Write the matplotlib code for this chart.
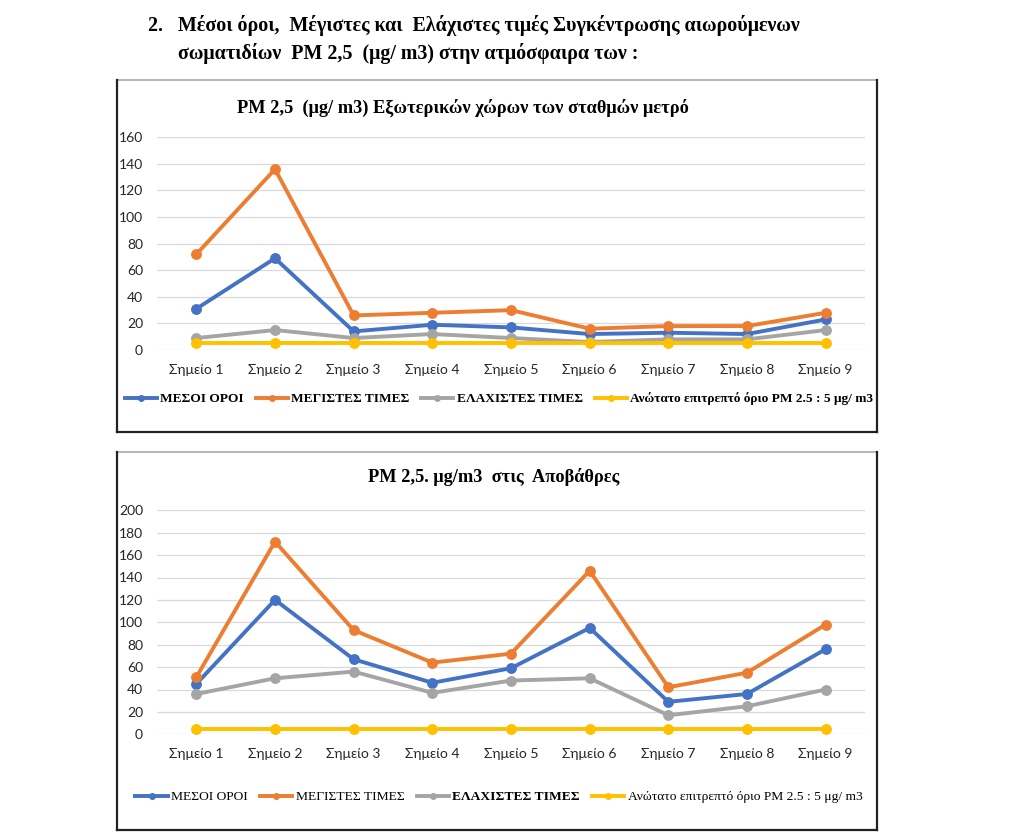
import matplotlib
matplotlib.use("Agg")
import matplotlib.pyplot as plt
from matplotlib.lines import Line2D
from matplotlib.font_manager import fontManager

categories = ["Σημείο 1", "Σημείο 2", "Σημείο 3", "Σημείο 4", "Σημείο 5",
              "Σημείο 6", "Σημείο 7", "Σημείο 8", "Σημείο 9"]

series_names = ["ΜΕΣΟΙ ΟΡΟΙ", "ΜΕΓΙΣΤΕΣ ΤΙΜΕΣ", "ΕΛΑΧΙΣΤΕΣ ΤΙΜΕΣ",
                "Ανώτατο επιτρεπτό όριο PM 2.5 : 5 μg/ m3"]

# Chart 1: outdoor areas of metro stations
top_mean = [31, 69, 14, 19, 17, 12, 13, 12, 23]
top_max = [72, 136, 26, 28, 30, 16, 18, 18, 28]
top_min = [9, 15, 9, 12, 9, 6, 8, 8, 15]
top_limit = [5, 5, 5, 5, 5, 5, 5, 5, 5]

# Chart 2: platforms
bot_mean = [45, 120, 67, 46, 59, 95, 29, 36, 76]
bot_max = [51, 172, 93, 64, 72, 146, 42, 55, 98]
bot_min = [36, 50, 56, 37, 48, 50, 17, 25, 40]
bot_limit = [5, 5, 5, 5, 5, 5, 5, 5, 5]

top_yticks = [0, 20, 40, 60, 80, 100, 120, 140, 160]
bot_yticks = [0, 20, 40, 60, 80, 100, 120, 140, 160, 180, 200]

heading1 = "2.   Μέσοι όροι,  Μέγιστες και  Ελάχιστες τιμές Συγκέντρωσης αιωρούμενων"
heading2 = "σωματιδίων  PM 2,5  (μg/ m3) στην ατμόσφαιρα των :"
title_top = "PM 2,5  (μg/ m3) Εξωτερικών χώρων των σταθμών μετρό"
title_bot = "PM 2,5. μg/m3  στις  Αποβάθρες"

colors = ["#4472C4", "#ED7D31", "#A5A5A5", "#FFC000"]

names = {f.name for f in fontManager.ttflist}
sans = "Liberation Sans Narrow" if "Liberation Sans Narrow" in names else "Lato"
serif = "Liberation Serif"

W, H = 1015, 839
fig = plt.figure(figsize=(W / 100, H / 100), dpi=100)
fig.patch.set_facecolor("white")


def fx(px):
    return px / W


def fy(py):
    return 1 - py / H


def box(left, top, right, bottom):
    fig.add_artist(Line2D([fx(left), fx(right)], [fy(top), fy(top)],
                          transform=fig.transFigure, color="#A8A8A8", lw=1.2))
    for xs, ys in [([left, left], [top, bottom]),
                   ([right, right], [top, bottom]),
                   ([left, right], [bottom, bottom])]:
        fig.add_artist(Line2D([fx(x) for x in xs], [fy(y) for y in ys],
                              transform=fig.transFigure, color="#222222", lw=1.6))


# heading
fig.text(fx(148), fy(25), heading1, family=serif, weight="bold", fontsize=14.4,
         ha="left", va="center")
fig.text(fx(178), fy(53), heading2, family=serif, weight="bold", fontsize=14.4,
         ha="left", va="center")

box(117, 80, 877, 432)
box(117, 452, 877, 830)


def make_chart(rect, data, yticks, title, title_xy, legend_y, legend_bold,
               legend_size):
    ax = fig.add_axes(rect)
    x = list(range(len(categories)))
    for vals, c in zip(data, colors):
        ax.plot(x, vals, color=c, lw=2.8, marker="o", markersize=6.8,
                solid_capstyle="round", zorder=3)
    ax.set_xlim(-0.5, len(categories) - 0.5)
    ax.set_ylim(yticks[0], yticks[-1])
    ax.set_yticks(yticks)
    ax.set_xticks(x)
    ax.set_xticklabels(categories)
    ax.grid(axis="y", color="#D9D9D9", lw=0.9)
    ax.set_axisbelow(True)
    for s in ax.spines.values():
        s.set_visible(False)
    ax.tick_params(length=0, labelsize=10, colors="#262626")
    ax.tick_params(axis="y", pad=10)
    ax.tick_params(axis="x", pad=10)
    for lab in ax.get_xticklabels() + ax.get_yticklabels():
        lab.set_family([sans, "DejaVu Sans"])
    fig.text(fx(title_xy[0]), fy(title_xy[1]), title, family=serif,
             weight="bold", fontsize=13.2, ha="center", va="center")
    handles = [Line2D([0], [0], color=c, lw=2.8, marker="o", markersize=4)
               for c in colors]
    leg = fig.legend(handles, series_names, loc="center",
                     bbox_to_anchor=(fx(499), fy(legend_y)), ncol=4,
                     frameon=False, handlelength=2.4, handletextpad=0.25,
                     columnspacing=0.9, prop={"family": serif, "size": legend_size})
    for t, b in zip(leg.get_texts(), legend_bold):
        t.set_weight("bold" if b else "normal")
    return ax


make_chart([fx(157), fy(350), fx(865) - fx(157), fy(137.3) - fy(350)],
           [top_mean, top_max, top_min, top_limit], top_yticks, title_top,
           (463, 108), 399, [True, True, True, True], 9.6)

make_chart([fx(157), fy(734.3), fx(865) - fx(157), fy(510.3) - fy(734.3)],
           [bot_mean, bot_max, bot_min, bot_limit], bot_yticks, title_bot,
           (494, 477), 797, [False, False, True, False], 9.7)

fig.savefig("out.png", dpi=100, facecolor="white")
